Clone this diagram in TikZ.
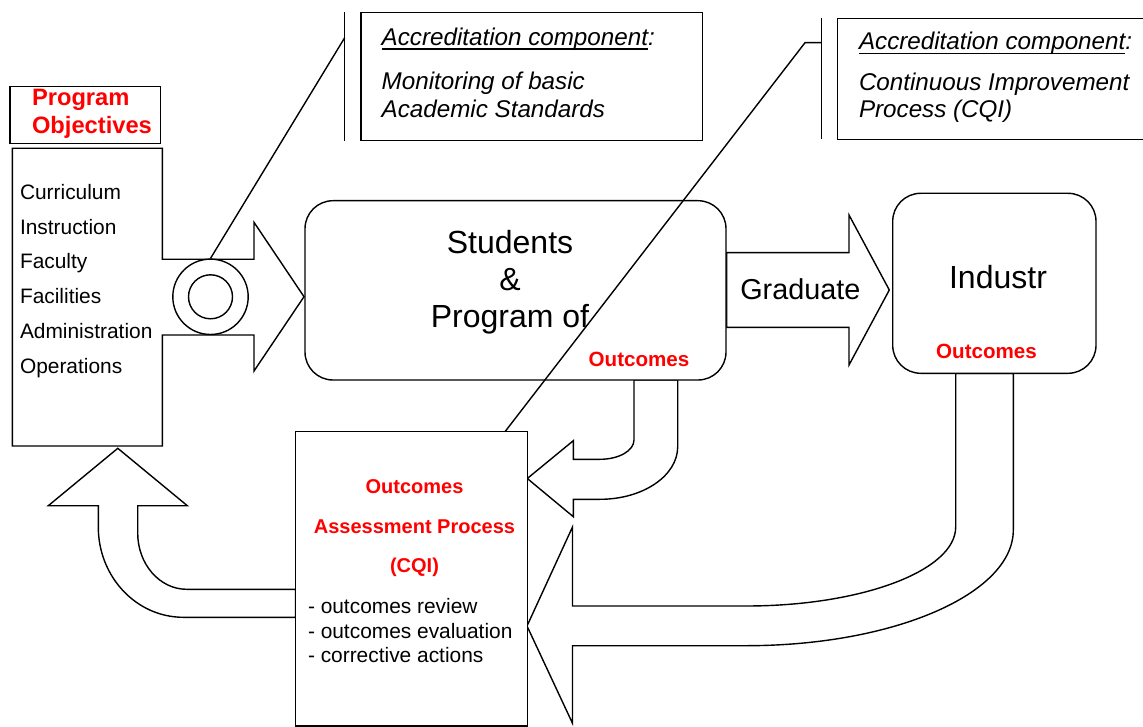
\documentclass[tikz,border=0pt]{standalone}
\usepackage{fontspec}
\setmainfont{Liberation Sans}
\newcommand{\fsList}{\fontsize{20.9pt}{25pt}\selectfont}
\newcommand{\fsNote}{\fontsize{24.2pt}{29pt}\selectfont}
\newcommand{\fsBig}{\fontsize{32pt}{38pt}\selectfont}
\newcommand{\fsGrad}{\fontsize{28.8pt}{34pt}\selectfont}
\newcommand{\fsHead}{\fontsize{23.7pt}{28pt}\selectfont}
\newcommand{\fsRed}{\fontsize{20.6pt}{25pt}\selectfont}
\newcommand{\fsRedBox}{\fontsize{20pt}{24pt}\selectfont}
\newcommand{\fsItem}{\fontsize{20.9pt}{25pt}\selectfont}
\begin{document}
\begin{tikzpicture}[x=1pt,y=-1pt,
  outline/.style={draw=black, line width=1.4pt, fill=white, line join=miter},
  thin line/.style={draw=black, line width=1.4pt},
  txt/.style={inner sep=0pt, outer sep=0pt, text=black},
  listtxt/.style={txt, font=\fsList, anchor=base west},
  notetxt/.style={txt, font=\fsNote\itshape, anchor=base west},
  bigtxt/.style={txt, font=\fsBig, anchor=base},
  redtxt/.style={txt, text=red, font=\fsRed\bfseries, anchor=base},
  redboxtxt/.style={txt, text=red, font=\fsRedBox\bfseries, anchor=base},
  itemtxt/.style={txt, font=\fsItem, anchor=base west},
  ring/.style={circle, draw=black, line width=1.4pt, fill=white, inner sep=0pt}
]
\useasboundingbox (0,0) rectangle (1143,727);
\clip (0,0) rectangle (1143,727);

% block arrows
\draw[outline] (726.7,252.7) -- (849,252.7) -- (849,215) -- (889.3,290)
  -- (849,365) -- (849,327.3) -- (726.7,327.3) -- cycle;
% students -> assessment
\draw[outline] (634,380) -- (634,440)
  .. controls (634,450.7) and (618.8,459.3) .. (600,459.3)
  -- (573.3,459.3) -- (573.3,440.7) -- (527.3,478.5) -- (573.3,516.7)
  -- (573.3,499.3) -- (600,499.3)
  .. controls (642.9,499.3) and (677.7,475.8) .. (677.7,446.7)
  -- (677.7,380) -- cycle;
% industry -> assessment
\draw[outline] (955.7,373.3) -- (955.7,527)
  .. controls (955.7,570.6) and (861.8,606) .. (746,606)
  -- (572.5,606) -- (572.5,527) -- (527,626) -- (572.5,723.3)
  -- (572.5,645.7) -- (746,645.7)
  .. controls (893.6,645.7) and (1013.3,593.9) .. (1013.3,530)
  -- (1013.3,373.3) -- cycle;
% assessment -> program inputs
\draw[outline] (295.5,589.3) -- (186.7,589.3)
  .. controls (159.6,589.3) and (137.7,564.1) .. (137.7,533)
  -- (137.7,505.7) -- (187.3,505.7) -- (117.8,448.3) -- (48.3,505.7)
  -- (98.3,505.7) -- (98.3,527)
  .. controls (98.3,576.9) and (136.4,617.3) .. (183.3,617.3)
  -- (295.5,617.3) -- cycle;

% input list with its arrow
\draw[outline] (12.3,148.3) -- (162.3,148.3) -- (162.3,259.3) -- (254,259.3)
  -- (254,222.3) -- (304,296.7) -- (254,371) -- (254,335) -- (162.3,335)
  -- (162.3,446) -- (12.3,446) -- cycle;

% boxes
\draw[outline] (10,86.7) rectangle (160.7,143.3);
\draw[outline, rounded corners=28pt] (305,200.7) rectangle (726,380);
\draw[outline, rounded corners=28pt] (892.7,193.3) rectangle (1096,373.3);
\draw[outline] (295.5,431.7) rectangle (527.5,726);
\draw[outline] (361,12.7) rectangle (702.7,140.7);
\draw[outline] (837.7,18.3) rectangle (1150,139.3);

% junction ring
\node[ring, minimum size=75.4pt] (ringout) at (210.5,296.8) {};
\node[ring, minimum size=44pt] (ringin) at (210.5,296.8) {};

% callout lines
\coordinate (bar1top) at (344.7,12.3);
\coordinate (bar1bot) at (344.7,141);
\coordinate (bar1hit) at (344.7,37.7);
\coordinate (bar2top) at (821.7,18.3);
\coordinate (bar2bot) at (821.7,139.3);
\coordinate (bar2hit) at (821.7,42.7);
\coordinate (bar2knee) at (805,42.7);
\coordinate (cqitop) at (505,431.7);
\draw[thin line] (bar1top) -- (bar1bot);
\draw[thin line] (ringout.north) -- (bar1hit);
\draw[thin line] (bar2top) -- (bar2bot);
\draw[thin line, line join=miter] (bar2hit) -- (bar2knee) -- (cqitop);

% texts
\node[txt, text=red, font=\fsHead\bfseries, anchor=base west] (po1) at (32,106) {Program};
\node[txt, text=red, font=\fsHead\bfseries, anchor=base west] (po2) at (32,133.3) {Objectives};

\node[listtxt] (l1) at (20,199.3) {Curriculum};
\node[listtxt] (l2) at (20,234.1) {Instruction};
\node[listtxt] (l3) at (20,268.9) {Faculty};
\node[listtxt] (l4) at (20,303.7) {Facilities};
\node[listtxt] (l5) at (20,338.5) {Administration};
\node[listtxt] (l6) at (20,373.3) {Operations};

\node[notetxt] (acc1) at (381.7,45.7) {Accreditation component};
\node[notetxt] (acc1c) at (acc1.base east) {:};
\draw[line width=1.4pt] ([yshift=-3.3pt]acc1.base west) -- ([yshift=-3.3pt]acc1.base east);
\node[notetxt] (mon1) at (381.7,90) {Monitoring of basic};
\node[notetxt] (mon2) at (381.7,117.3) {Academic Standards};

\node[notetxt] (acc2) at (859,50) {Accreditation component};
\node[notetxt] (acc2c) at (acc2.base east) {:};
\draw[line width=1.4pt] ([yshift=-3.3pt]acc2.base west) -- ([yshift=-3.3pt]acc2.base east);
\node[notetxt] (cqi1) at (859,90.7) {Continuous Improvement};
\node[notetxt] (cqi2) at (859,117.3) {Process (CQI)};

\node[bigtxt] (st1) at (510,253.3) {Students};
\node[bigtxt] (st2) at (510,290.7) {\&};
\node[bigtxt] (st3) at (510,327.7) {Program of};
\node[redtxt] (stout) at (639,366.7) {Outcomes};

\node[txt, font=\fsGrad, anchor=base] (grad) at (800.3,299.3) {Graduate};

\node[bigtxt] (ind) at (998,288.3) {Industr};
\node[redtxt] (indout) at (986.5,358.3) {Outcomes};

\node[redboxtxt] (oa1) at (414.5,493.3) {Outcomes};
\node[redboxtxt] (oa2) at (414.5,533.3) {Assessment Process};
\node[redboxtxt] (oa3) at (414.5,572.7) {(CQI)};

\node[itemtxt] (it1) at (308,613.5) {- outcomes review};
\node[itemtxt] (it2) at (308,638) {- outcomes evaluation};
\node[itemtxt] (it3) at (308,662.5) {- corrective actions};
\end{tikzpicture}
\end{document}
